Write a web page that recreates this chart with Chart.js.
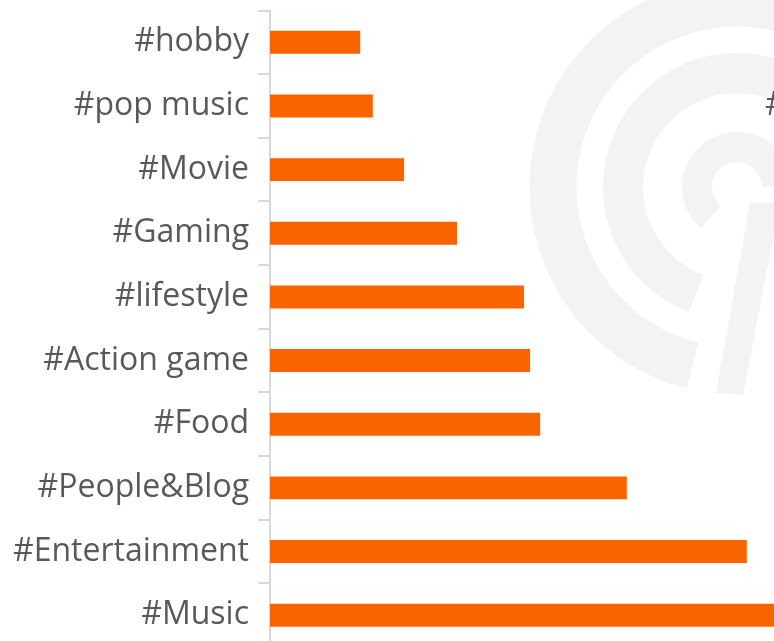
<!DOCTYPE html>
<html>
<head>
<meta charset="utf-8">
<script src="https://cdn.jsdelivr.net/npm/chart.js@4"></script>
<style>
  html, body { margin: 0; padding: 0; background: #fff; overflow: hidden; }
  #wrap { width: 774px; height: 647px; }
</style>
</head>
<body>
<div id="wrap"><canvas id="myChart" width="774" height="647"></canvas></div>
<script>
// tags, top to bottom
const tags = ["#hobby", "#pop music", "#Movie", "#Gaming", "#lifestyle",
  "#Action game", "#Food", "#People&Blog", "#Entertainment", "#Music"];
// bar lengths (x axis 0..100, Music runs off the edge)
const shares = [17.9, 20.4, 26.6, 37.1, 50.4, 51.6, 53.6, 70.8, 94.6, 108];
const xMax = 100;

const labelFont = { family: "'Open Sans', sans-serif", size: 32 };

// light grey logo behind the bars
const watermark = {
  id: "watermark",
  beforeDatasetsDraw(chart) {
    const c = chart.ctx;
    const rad = d => d * Math.PI / 180;
    c.save();
    c.strokeStyle = "#f3f3f3";
    c.fillStyle = "#f3f3f3";
    const cx = 737, cy = 187;
    c.lineWidth = 47;
    c.beginPath();
    c.arc(cx, cy, 184, rad(104), rad(360));
    c.stroke();
    c.lineWidth = 40;
    c.beginPath();
    c.arc(cx, cy, 114, rad(111), rad(360));
    c.stroke();
    c.lineWidth = 30;
    c.beginPath();
    c.arc(cx, cy, 40, rad(131), rad(360));
    c.stroke();
    c.beginPath();
    c.moveTo(750, 203);
    c.lineTo(780, 203);
    c.lineTo(743, 395);
    c.lineTo(716, 393);
    c.closePath();
    c.fill();
    c.restore();
  },
  afterDraw(chart) {
    const c = chart.ctx;
    c.save();
    c.fillStyle = "#595959";
    c.font = "32px 'Open Sans', sans-serif";
    c.textBaseline = "middle";
    c.textAlign = "left";
    c.fillText("#", 765, 106);
    c.restore();
  }
};

let graph = new Chart("myChart", {
  type: "bar",
  data: {
    labels: tags,
    datasets: [{
      data: shares,
      backgroundColor: "#fa6400",
      barPercentage: 0.36,
      categoryPercentage: 1
    }]
  },
  options: {
    indexAxis: "y",
    responsive: false,
    animation: false,
    layout: { padding: { top: 10.5, right: 0, bottom: 0, left: 0 } },
    plugins: {
      legend: { display: false },
      tooltip: { enabled: false }
    },
    scales: {
      x: {
        display: false,
        min: 0,
        max: xMax
      },
      y: {
        afterFit(scale) {
          scale.width = 270;
          scale.paddingTop = 0;
          scale.paddingBottom = 0;
        },
        grid: {
          drawOnChartArea: false,
          tickLength: 12,
          color: "#d9d9d9",
          lineWidth: 2
        },
        border: { color: "#d9d9d9", width: 2 },
        ticks: {
          color: "#595959",
          font: labelFont,
          padding: 9
        }
      }
    }
  },
  plugins: [watermark]
});
</script>
</body>
</html>
